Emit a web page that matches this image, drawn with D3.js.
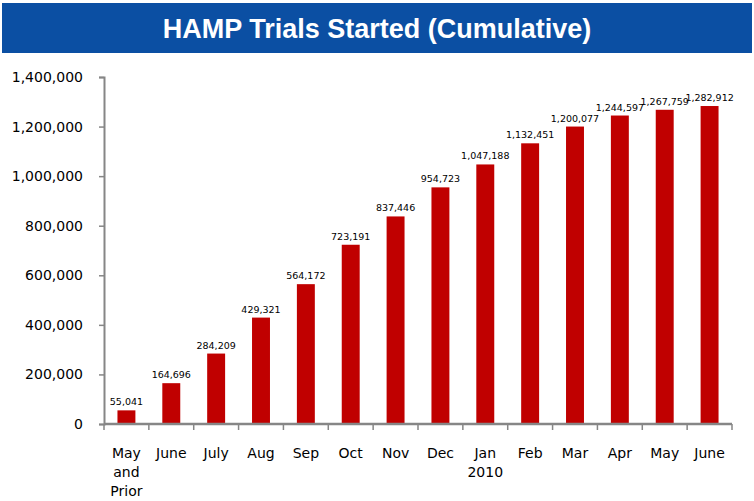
<!DOCTYPE html>
<html>
<head>
<meta charset="utf-8">
<script src="https://cdn.jsdelivr.net/npm/d3@7"></script>
<style>
  body { margin: 0; background: #fff; }
  svg text { font-family: "DejaVu Sans", Verdana, sans-serif; }
</style>
</head>
<body>
<svg id="chart"></svg>
<script>
// data
var months = ["May|and|Prior", "June", "July", "Aug", "Sep", "Oct", "Nov", "Dec",
              "Jan|2010", "Feb", "Mar", "Apr", "May", "June"];
var trials = [55041, 164696, 284209, 429321, 564172, 723191, 837446, 954723,
              1047188, 1132451, 1200077, 1244597, 1267759, 1282912];
var yTicks = [0, 200000, 400000, 600000, 800000, 1000000, 1200000, 1400000];

var width = 754, height = 501;
var margin = {left: 104, right: 22, top: 77, bottom: 77};

var svg = d3.select("#chart")
    .attr("width", width)
    .attr("height", height);

// title banner
svg.append("rect")
    .attr("x", 2).attr("y", 3)
    .attr("width", 750).attr("height", 50)
    .attr("fill", "#0b4fa3");
svg.append("text")
    .attr("x", 377).attr("y", 38)
    .attr("text-anchor", "middle")
    .attr("fill", "#fff")
    .style("font-family", "'Liberation Sans', Arial, sans-serif")
    .style("font-weight", "bold")
    .style("font-size", "27px")
    .text("HAMP Trials Started (Cumulative)");

var x = d3.scaleBand()
    .domain(months.map(function(d, i) { return i; }))
    .range([margin.left, width - margin.right])
    .paddingInner(0.6)
    .paddingOuter(0.3);

var y = d3.scaleLinear()
    .domain([0, 1400000])
    .range([height - margin.bottom + 0, margin.top]);

var y0 = y(0);

// bars
svg.append("g").selectAll("rect")
    .data(trials)
    .enter()
    .append("rect")
    .attr("x", function(d, i) { return x(i); })
    .attr("y", function(d) { return y(d); })
    .attr("width", x.bandwidth())
    .attr("height", function(d) { return y0 - y(d); })
    .attr("fill", "#c00000");

// value labels
svg.append("g").selectAll("text")
    .data(trials)
    .enter()
    .append("text")
    .attr("x", function(d, i) { return x(i) + x.bandwidth() / 2; })
    .attr("y", function(d) { return y(d) - 5; })
    .attr("text-anchor", "middle")
    .style("font-size", "9.5px")
    .attr("fill", "#000")
    .text(function(d) { return d3.format(",")(d); });

// y axis
var yAxis = svg.append("g")
    .attr("transform", "translate(" + margin.left + ",0)")
    .call(d3.axisLeft(y).tickValues(yTicks).tickFormat(d3.format(",")).tickSize(5).tickPadding(16));
yAxis.select(".domain").attr("stroke", "#868686").attr("stroke-width", 2);
yAxis.selectAll(".tick line").attr("stroke", "#868686").attr("stroke-width", 1.5);
yAxis.selectAll(".tick text").style("font-size", "14px").attr("fill", "#000");

// x axis: ticks at category boundaries
var step = x.step();
var xEdges = d3.range(months.length + 1).map(function(i) { return margin.left + i * step; });
svg.append("line")
    .attr("x1", margin.left).attr("x2", width - margin.right)
    .attr("y1", y0).attr("y2", y0)
    .attr("stroke", "#868686").attr("stroke-width", 2.5);
svg.append("g").selectAll("line")
    .data(xEdges)
    .enter()
    .append("line")
    .attr("x1", function(d) { return d; }).attr("x2", function(d) { return d; })
    .attr("y1", y0).attr("y2", y0 + 6)
    .attr("stroke", "#868686").attr("stroke-width", 1.5);

var cats = svg.append("g").selectAll("text")
    .data(months)
    .enter()
    .append("text")
    .attr("x", function(d, i) { return x(i) + x.bandwidth() / 2; })
    .attr("y", y0 + 34)
    .attr("text-anchor", "middle")
    .style("font-size", "14px")
    .attr("fill", "#000");
cats.each(function(d) {
    var t = d3.select(this);
    d.split("|").forEach(function(part, k) {
        t.append("tspan")
            .attr("x", t.attr("x"))
            .attr("dy", k == 0 ? 0 : 19)
            .text(part);
    });
});
</script>
</body>
</html>
